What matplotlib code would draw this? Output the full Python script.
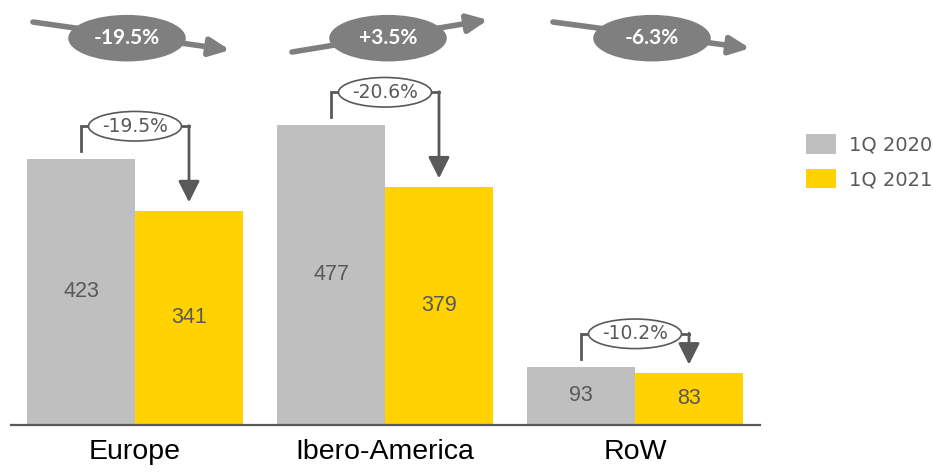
import matplotlib
matplotlib.use("Agg")
import matplotlib.pyplot as plt
from matplotlib.patches import Ellipse
import numpy as np

# Data
regions = ["Europe", "Ibero-America", "RoW"]
q1_2020 = [423, 477, 93]
q1_2021 = [341, 379, 83]
bracket_labels = ["-19.5%", "-20.6%", "-10.2%"]
trend_labels = ["-19.5%", "+3.5%", "-6.3%"]
series_names = ["1Q 2020", "1Q 2021"]

GREY = "#bfbfbf"
YELLOW = "#ffd200"
DARK = "#595959"
TREND = "#7f7f7f"

fig = plt.figure(figsize=(9.33, 4.72), dpi=100)
ax = fig.add_axes([11 / 933, 47 / 472, 749 / 933, 425 / 472])

x = np.arange(len(regions))
w = 0.432
off = w / 2
b1 = ax.bar(x - off, q1_2020, width=w, color=GREY, label=series_names[0])
b2 = ax.bar(x + off, q1_2021, width=w, color=YELLOW, label=series_names[1])

ax.set_xlim(-0.496, 2.5)
ax.set_ylim(0, 675.7)

for s in ["top", "left", "right"]:
    ax.spines[s].set_visible(False)
ax.spines["bottom"].set_color(DARK)
ax.spines["bottom"].set_linewidth(1.6)
ax.set_yticks([])
ax.set_xticks(x)
ax.set_xticklabels(regions, fontsize=20.5, family="Liberation Sans", color="black")
ax.tick_params(axis="x", length=0, pad=10)

# values centred inside bars
for xi, v in zip(x - off, q1_2020):
    ax.text(xi, v / 2, f"{v}", ha="center", va="center", fontsize=15.5,
            family="Liberation Sans", color=DARK)
for xi, v in zip(x + off, q1_2021):
    ax.text(xi, v / 2, f"{v}", ha="center", va="center", fontsize=15.5,
            family="Liberation Sans", color=DARK)

# change brackets between the two bars of each region
for i, (a, b, lab) in enumerate(zip(q1_2020, q1_2021, bracket_labels)):
    xl, xr = i - off, i + off
    ytop = a + 52
    ax.plot([xl, xl, i - 0.18], [a + 12, ytop, ytop], color=DARK, lw=2,
            solid_joinstyle="miter", zorder=3)
    ax.plot([i + 0.18, xr], [ytop, ytop], color=DARK, lw=2, zorder=3)
    ax.annotate("", xy=(xr, b + 13), xytext=(xr, ytop + 0.8),
                arrowprops=dict(arrowstyle="-|>,head_length=1.3,head_width=0.65",
                                color=DARK, lw=2, shrinkA=0, shrinkB=0),
                zorder=3)
    ax.add_patch(Ellipse((i, ytop), 0.372, 47, facecolor="white",
                         edgecolor=DARK, lw=1.2, zorder=4))
    ax.text(i, ytop, lab, ha="center", va="center", fontsize=13.5,
            family="DejaVu Sans", color=DARK, zorder=5)

# regional trend arrows along the top
trend_start = [(-0.408, 640.7), (0.628, 593.0), (1.672, 640.7)]
trend_end = [(0.38, 596.2), (1.412, 644.0), (2.46, 599.0)]
trend_center = [(-0.032, 615.0), (1.012, 615.0), (2.068, 615.0)]
for (s, e, c, lab) in zip(trend_start, trend_end, trend_center, trend_labels):
    ax.annotate("", xy=e, xytext=s,
                arrowprops=dict(arrowstyle="-|>,head_length=1.2,head_width=0.55",
                                color=TREND, lw=4, shrinkA=0, shrinkB=0),
                annotation_clip=False)
    ax.add_patch(Ellipse(c, 0.47, 74, facecolor=TREND, edgecolor="none",
                         zorder=4, clip_on=False))
    ax.text(c[0], c[1], lab, ha="center", va="center", fontsize=15,
            fontweight="bold", family="Lato", color="white", zorder=5)

fs = 14
leg = fig.legend(handles=[b1, b2], labels=series_names, loc="upper left",
                 bbox_to_anchor=(806 / 933, 1 - 134 / 472), frameon=False,
                 borderpad=0, borderaxespad=0, handlelength=1.55,
                 handleheight=1.2, handletextpad=0.65, labelspacing=0.72,
                 prop={"family": "DejaVu Sans", "size": fs})
for t in leg.get_texts():
    t.set_color(DARK)

fig.savefig("out.png", dpi=100)
